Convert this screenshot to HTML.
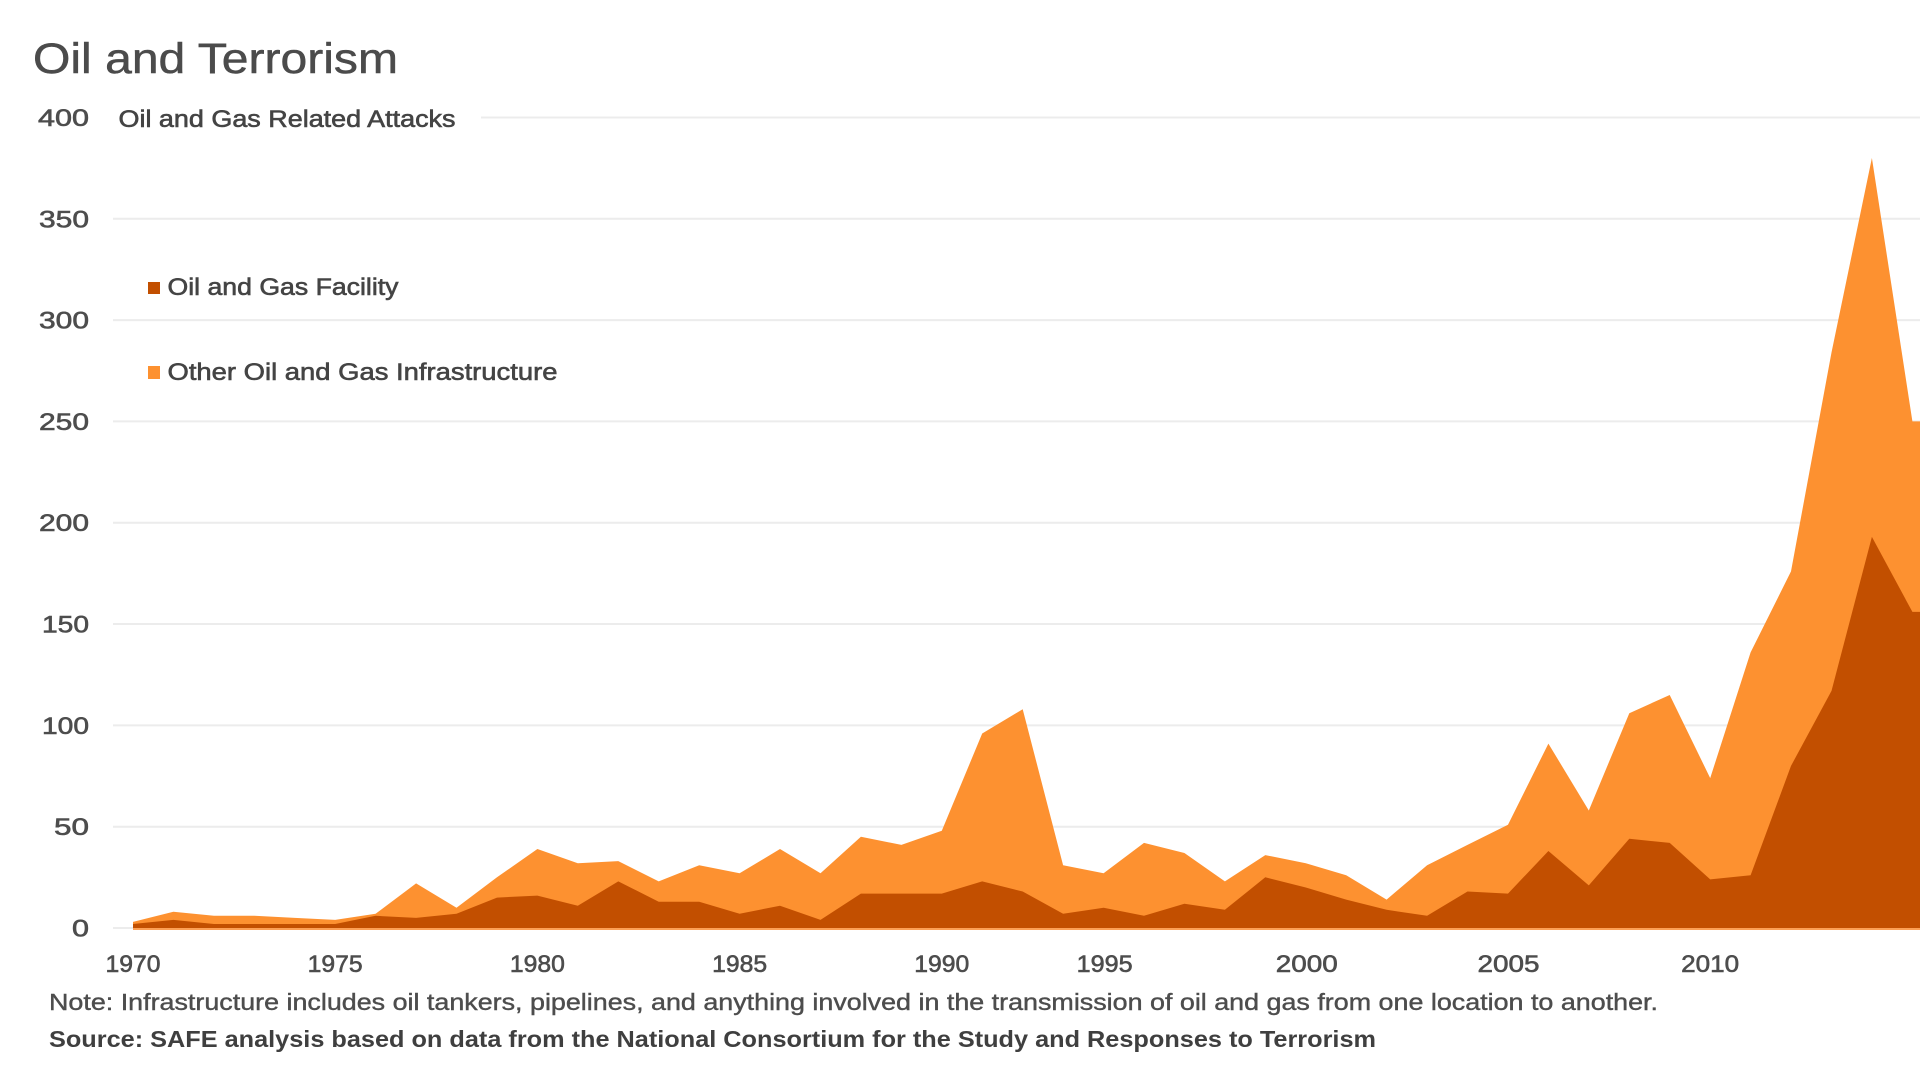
<!DOCTYPE html>
<html>
<head>
<meta charset="utf-8">
<style>
  html,body{margin:0;padding:0;background:#ffffff;}
  body{width:1920px;height:1080px;overflow:hidden;}
  svg{display:block;}
  text{font-family:"Liberation Sans", sans-serif;}
</style>
</head>
<body>
<svg width="1920" height="1080" viewBox="0 0 1920 1080" xmlns="http://www.w3.org/2000/svg">
  <rect x="0" y="0" width="1920" height="1080" fill="#ffffff"/>

  <!-- Title -->
  <text x="33" y="73" font-size="43" fill="#4b4b4b" stroke="#4b4b4b" stroke-width="0.5" textLength="365" lengthAdjust="spacingAndGlyphs">Oil and Terrorism</text>

  <!-- Gridlines -->
  <g stroke="#ececec" stroke-width="2">
    <line x1="481" y1="117.5" x2="1920" y2="117.5"/>
    <line x1="113" y1="218.8" x2="1920" y2="218.8"/>
    <line x1="113" y1="320.1" x2="1920" y2="320.1"/>
    <line x1="113" y1="421.4" x2="1920" y2="421.4"/>
    <line x1="113" y1="522.7" x2="1920" y2="522.7"/>
    <line x1="113" y1="624.0" x2="1920" y2="624.0"/>
    <line x1="113" y1="725.4" x2="1920" y2="725.4"/>
    <line x1="113" y1="826.7" x2="1920" y2="826.7"/>
    <line x1="113" y1="928" x2="1920" y2="928"/>
  </g>

  <!-- Y labels -->
  <g font-size="24" fill="#4d4d4d" stroke="#4d4d4d" stroke-width="0.6" text-anchor="end">
    <text x="89" y="126" textLength="51" lengthAdjust="spacingAndGlyphs">400</text>
    <text x="89" y="227.3" textLength="50" lengthAdjust="spacingAndGlyphs">350</text>
    <text x="89" y="328.6" textLength="50" lengthAdjust="spacingAndGlyphs">300</text>
    <text x="89" y="429.9" textLength="50" lengthAdjust="spacingAndGlyphs">250</text>
    <text x="89" y="531.2" textLength="50" lengthAdjust="spacingAndGlyphs">200</text>
    <text x="89" y="632.5" textLength="47" lengthAdjust="spacingAndGlyphs">150</text>
    <text x="89" y="733.9" textLength="47" lengthAdjust="spacingAndGlyphs">100</text>
    <text x="89" y="835.2" textLength="35" lengthAdjust="spacingAndGlyphs">50</text>
    <text x="89" y="936.5" textLength="17" lengthAdjust="spacingAndGlyphs">0</text>
  </g>

  <!-- Axis subtitle -->
  <text x="118.5" y="127" font-size="24" fill="#444444" stroke="#444444" stroke-width="0.6" textLength="337" lengthAdjust="spacingAndGlyphs">Oil and Gas Related Attacks</text>

  <!-- Legend -->
  <rect x="148" y="282" width="12" height="12" fill="#c24f00"/>
  <text x="167.5" y="295" font-size="24" fill="#444444" stroke="#444444" stroke-width="0.6" textLength="231" lengthAdjust="spacingAndGlyphs">Oil and Gas Facility</text>
  <rect x="148" y="366" width="12" height="13" fill="#fd9130"/>
  <text x="167.5" y="380" font-size="24" fill="#444444" stroke="#444444" stroke-width="0.6" textLength="390" lengthAdjust="spacingAndGlyphs">Other Oil and Gas Infrastructure</text>

  <!-- Total (light) area -->
  <polygon fill="#fd9130" points="
    133.0,928 133.0,921.9 173.4,911.8 213.9,915.8 254.3,915.8 294.8,917.9 335.2,919.9 375.6,913.8
    416.1,883.4 456.5,907.7 497.0,877.3 537.4,849.0 577.8,863.2 618.3,861.1 658.7,881.4 699.2,865.2
    739.6,873.3 780.0,849.0 820.5,873.3 860.9,836.8 901.4,844.9 941.8,830.7 982.2,733.5 1022.7,709.2
    1063.1,865.2 1103.6,873.3 1144.0,842.9 1184.4,853.0 1224.9,881.4 1265.3,855.1 1305.8,863.2
    1346.2,875.3 1386.6,899.6 1427.1,865.2 1467.5,844.9 1508.0,824.7 1548.4,743.6 1588.8,810.5
    1629.3,713.2 1669.7,695.0 1710.2,778.1 1750.6,652.4 1791.0,571.4 1831.5,352.5 1871.9,158.0
    1912.4,421.4 1920,421.4 1920,928"/>

  <!-- Facility (dark) area -->
  <polygon fill="#c24f00" points="
    133.0,928 133.0,924.0 173.4,919.9 213.9,924.0 254.3,924.0 294.8,924.0 335.2,924.0 375.6,915.8
    416.1,917.9 456.5,913.8 497.0,897.6 537.4,895.6 577.8,905.7 618.3,881.4 658.7,901.7 699.2,901.7
    739.6,913.8 780.0,905.7 820.5,919.9 860.9,893.6 901.4,893.6 941.8,893.6 982.2,881.4 1022.7,891.5
    1063.1,913.8 1103.6,907.7 1144.0,915.8 1184.4,903.7 1224.9,909.8 1265.3,877.3 1305.8,887.5
    1346.2,899.6 1386.6,909.8 1427.1,915.8 1467.5,891.5 1508.0,893.6 1548.4,851.0 1588.8,885.4
    1629.3,838.8 1669.7,842.9 1710.2,879.4 1750.6,875.3 1791.0,765.9 1831.5,690.9 1871.9,536.9
    1912.4,611.9 1920,611.9 1920,928"/>

  <!-- thin baseline -->
  <line x1="133" y1="929" x2="1920" y2="929" stroke="#fda055" stroke-width="2"/>

  <!-- X labels -->
  <g font-size="24" fill="#4d4d4d" stroke="#4d4d4d" stroke-width="0.6" text-anchor="middle">
    <text x="133" y="972" textLength="55" lengthAdjust="spacingAndGlyphs">1970</text>
    <text x="335.2" y="972" textLength="55" lengthAdjust="spacingAndGlyphs">1975</text>
    <text x="537.4" y="972" textLength="55" lengthAdjust="spacingAndGlyphs">1980</text>
    <text x="739.6" y="972" textLength="55" lengthAdjust="spacingAndGlyphs">1985</text>
    <text x="941.8" y="972" textLength="55" lengthAdjust="spacingAndGlyphs">1990</text>
    <text x="1104.6" y="972" textLength="56" lengthAdjust="spacingAndGlyphs">1995</text>
    <text x="1306.8" y="972" textLength="62" lengthAdjust="spacingAndGlyphs">2000</text>
    <text x="1508.5" y="972" textLength="62" lengthAdjust="spacingAndGlyphs">2005</text>
    <text x="1710.2" y="972" textLength="58" lengthAdjust="spacingAndGlyphs">2010</text>
  </g>

  <!-- Notes -->
  <text x="49" y="1010" font-size="23" fill="#4d4d4d" stroke="#4d4d4d" stroke-width="0.4" textLength="1609" lengthAdjust="spacingAndGlyphs">Note: Infrastructure includes oil tankers, pipelines, and anything involved in the transmission of oil and gas from one location to another.</text>
  <text x="49" y="1047" font-size="23" font-weight="bold" fill="#3f3f3f" textLength="1327" lengthAdjust="spacingAndGlyphs">Source: SAFE analysis based on data from the National Consortium for the Study and Responses to Terrorism</text>
</svg>
</body>
</html>
